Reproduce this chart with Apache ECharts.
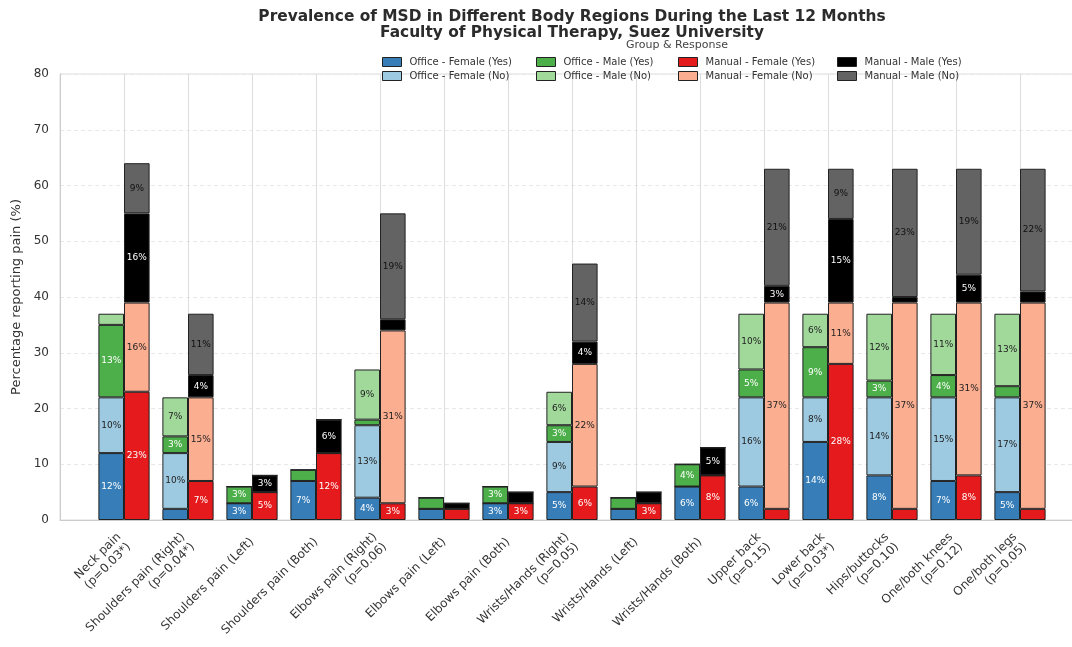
<!DOCTYPE html>
<html>
<head>
<meta charset="utf-8">
<script src="https://cdn.jsdelivr.net/npm/echarts@6/dist/echarts.min.js"></script>
<style>
  html, body { margin: 0; padding: 0; background: #fff; }
  #chart { width: 1072px; height: 647px; }
</style>
</head>
<body>
<div id="chart"></div>
<script>
// Body regions (x-axis categories) with p-values
const categories = [
  'Neck pain\n(p=0.03*)',
  'Shoulders pain (Right)\n(p=0.04*)',
  'Shoulders pain (Left)',
  'Shoulders pain (Both)',
  'Elbows pain (Right)\n(p=0.06)',
  'Elbows pain (Left)',
  'Elbows pain (Both)',
  'Wrists/Hands (Right)\n(p=0.05)',
  'Wrists/Hands (Left)',
  'Wrists/Hands (Both)',
  'Upper back\n(p=0.15)',
  'Lower back\n(p=0.03*)',
  'Hips/buttocks\n(p=0.10)',
  'One/both knees\n(p=0.12)',
  'One/both legs\n(p=0.05)'
];

// Percentage reporting pain, per group and response
const officeFemaleYes = [12, 2, 3, 7, 4, 2, 3, 5, 2, 6, 6, 14, 8, 7, 5];
const officeFemaleNo  = [10, 10, 0, 0, 13, 0, 0, 9, 0, 0, 16, 8, 14, 15, 17];
const officeMaleYes   = [13, 3, 3, 2, 1, 2, 3, 3, 2, 4, 5, 9, 3, 4, 2];
const officeMaleNo    = [2, 7, 0, 0, 9, 0, 0, 6, 0, 0, 10, 6, 12, 11, 13];
const manualFemaleYes = [23, 7, 5, 12, 3, 2, 3, 6, 3, 8, 2, 28, 2, 8, 2];
const manualFemaleNo  = [16, 15, 0, 0, 31, 0, 0, 22, 0, 0, 37, 11, 37, 31, 37];
const manualMaleYes   = [16, 4, 3, 6, 2, 1, 2, 4, 2, 5, 3, 15, 1, 5, 2];
const manualMaleNo    = [9, 11, 0, 0, 19, 0, 0, 14, 0, 0, 21, 9, 23, 19, 22];

// Y-axis ticks
const yTicks = [0, 10, 20, 30, 40, 50, 60, 70, 80];

const FONT = 'DejaVu Sans';

// One empty slot on each side keeps the first/last regions away from the frame
const axisCategories = [''].concat(categories, ['']);
const pad = arr => ['-'].concat(arr, ['-']);

const groups = [
  { name: 'Office - Female (Yes)', data: officeFemaleYes, stack: 'office', color: '#377eb8', label: '#ffffff' },
  { name: 'Office - Female (No)',  data: officeFemaleNo,  stack: 'office', color: '#9ecae1', label: '#222222' },
  { name: 'Office - Male (Yes)',   data: officeMaleYes,   stack: 'office', color: '#4daf4a', label: '#ffffff' },
  { name: 'Office - Male (No)',    data: officeMaleNo,    stack: 'office', color: '#a1d99b', label: '#222222' },
  { name: 'Manual - Female (Yes)', data: manualFemaleYes, stack: 'manual', color: '#e41a1c', label: '#ffffff' },
  { name: 'Manual - Female (No)',  data: manualFemaleNo,  stack: 'manual', color: '#fcae91', label: '#222222' },
  { name: 'Manual - Male (Yes)',   data: manualMaleYes,   stack: 'manual', color: '#000000', label: '#ffffff' },
  { name: 'Manual - Male (No)',    data: manualMaleNo,    stack: 'manual', color: '#636363', label: '#111111' }
];

const series = groups.map(g => ({
  name: g.name,
  type: 'bar',
  stack: g.stack,
  barWidth: 25.6,
  barGap: '0%',
  data: pad(g.data),
  itemStyle: { color: g.color, borderColor: '#222', borderWidth: 1 },
  label: {
    show: true,
    position: 'inside',
    fontFamily: FONT,
    fontSize: 9,
    color: g.label,
    formatter: p => (p.value >= 3 ? p.value + '%' : '')
  },
  emphasis: { disabled: true }
}));

// Legend: four columns, Yes on the first row and No on the second
const legendCols = [
  { left: 382, names: ['Office - Female (Yes)', 'Office - Female (No)'] },
  { left: 536, names: ['Office - Male (Yes)', 'Office - Male (No)'] },
  { left: 678, names: ['Manual - Female (Yes)', 'Manual - Female (No)'] },
  { left: 837, names: ['Manual - Male (Yes)', 'Manual - Male (No)'] }
];
const legends = legendCols.map(c => ({
  data: c.names,
  orient: 'vertical',
  left: c.left,
  top: 57,
  padding: 0,
  itemWidth: 19,
  itemHeight: 9,
  itemGap: 4,
  icon: 'rect',
  selectedMode: false,
  itemStyle: { borderColor: '#222', borderWidth: 1 },
  textStyle: { fontFamily: FONT, fontSize: 10, color: '#333', padding: [0, 0, 0, 3] }
}));

const chart = echarts.init(document.getElementById('chart'), null, { renderer: 'canvas' });
chart.setOption({
  animation: false,
  backgroundColor: '#ffffff',
  title: [
    {
      text: 'Prevalence of MSD in Different Body Regions During the Last 12 Months\nFaculty of Physical Therapy, Suez University',
      left: 567,
      top: 4,
      textAlign: 'center',
      textStyle: { fontFamily: FONT, fontSize: 15.4, fontWeight: 'bold', color: '#2b2b2b', lineHeight: 16 }
    },
    {
      text: 'Group & Response',
      left: 672,
      top: 35,
      textAlign: 'center',
      textStyle: { fontFamily: FONT, fontSize: 11, fontWeight: 'normal', color: '#444' }
    }
  ],
  legend: legends,
  grid: {
    left: 60, width: 1024, top: 74, bottom: 127,
    outerBoundsMode: 'none',
    containLabel: false,
    show: true, borderColor: '#dddddd', borderWidth: 1, backgroundColor: 'transparent'
  },
  xAxis: {
    type: 'category',
    data: axisCategories,
    boundaryGap: false,
    axisLine: { show: true, lineStyle: { color: '#cccccc' } },
    axisTick: { show: false },
    splitLine: { show: true, interval: 0, lineStyle: { color: '#dddddd', width: 1 } },
    axisLabel: {
      interval: 0,
      rotate: 45,
      margin: 20,
      fontFamily: FONT,
      fontSize: 12,
      color: '#333',
      lineHeight: 14
    }
  },
  yAxis: {
    type: 'value',
    min: yTicks[0],
    max: yTicks[yTicks.length - 1],
    interval: 10,
    name: 'Percentage reporting pain (%)',
    nameLocation: 'middle',
    nameGap: 35,
    nameTextStyle: { fontFamily: FONT, fontSize: 13, color: '#333' },
    axisLine: { show: true, lineStyle: { color: '#cccccc' } },
    axisTick: { show: false },
    axisLabel: { fontFamily: FONT, fontSize: 12, color: '#333', margin: 11 },
    splitLine: { show: true, lineStyle: { color: '#e8e8e8', type: [4, 3], width: 1 } }
  },
  series: series
});
</script>
</body>
</html>
